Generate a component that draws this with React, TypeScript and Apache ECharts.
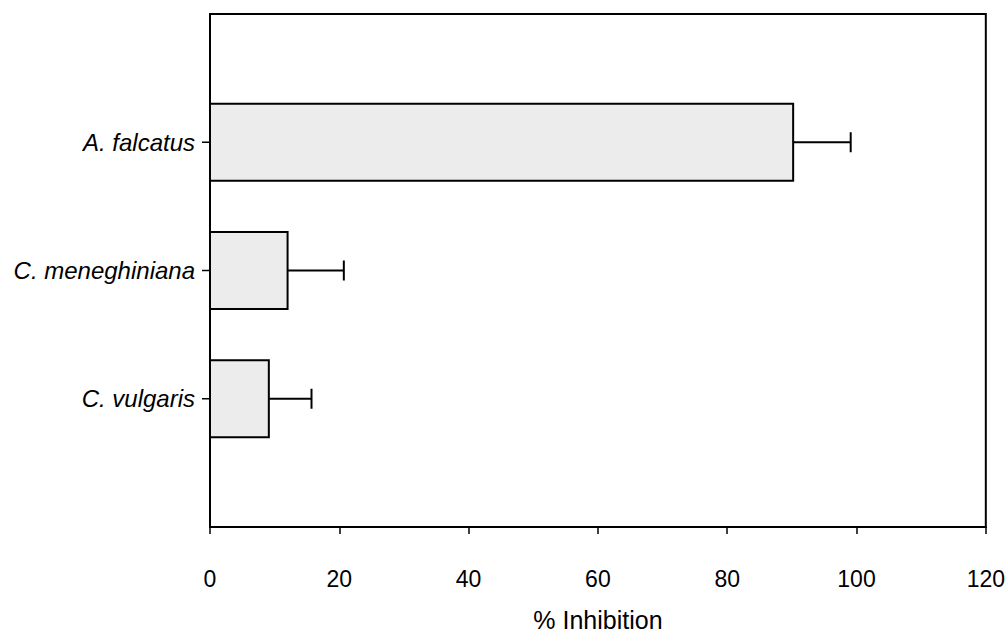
import React, { useEffect, useRef } from "react";
import * as echarts from "echarts";

const categories = ["C. vulgaris", "C. meneghiniana", "A. falcatus"];
const positions = [1, 2, 3];
const inhibition = [9.1, 12.0, 90.2];
const errors = [6.6, 8.7, 8.9];
const xTicks = [0, 20, 40, 60, 80, 100, 120];

export default function App() {
  const ref = useRef<HTMLDivElement>(null);
  useEffect(() => {
    document.body.style.margin = "0";
    if (!ref.current) return;
    const chart = echarts.init(ref.current, null, { renderer: "svg" });
    const data = categories.map((c, i) => [inhibition[i], positions[i], errors[i]]);
    chart.setOption({
      animation: false,
      backgroundColor: "#ffffff",
      grid: {
        left: 210,
        right: 22,
        top: 14,
        bottom: 107,
        show: true,
        borderColor: "#000",
        borderWidth: 2,
      },
      xAxis: {
        type: "value",
        min: xTicks[0],
        max: xTicks[xTicks.length - 1],
        interval: 20,
        name: "% Inhibition",
        nameLocation: "middle",
        nameGap: 80,
        nameTextStyle: { fontFamily: "Liberation Sans, Arial", fontSize: 25, color: "#000" },
        axisLine: { show: true, lineStyle: { color: "#000", width: 2 } },
        axisTick: { show: true, length: 7, lineStyle: { color: "#000", width: 1.5 } },
        axisLabel: { fontFamily: "Liberation Sans, Arial", fontSize: 23, color: "#000", margin: 40 },
        splitLine: { show: false },
      },
      yAxis: {
        type: "value",
        min: 0,
        max: 4,
        interval: 1,
        axisLine: { show: true, lineStyle: { color: "#000", width: 2 } },
        axisTick: { show: false },
        axisLabel: {
          fontFamily: "Liberation Sans, Arial",
          fontStyle: "italic",
          fontSize: 24,
          color: "#000",
          margin: 15,
          formatter: (v: number) => {
            const idx = positions.indexOf(v);
            return idx >= 0 ? categories[idx] : "";
          },
        },
        splitLine: { show: false },
      },
      series: [
        {
          type: "custom",
          data,
          renderItem: (params: any, api: any) => {
            const v = api.value(0);
            const p = api.value(1);
            const e = api.value(2);
            const start = api.coord([0, p]);
            const end = api.coord([v, p]);
            const errEnd = api.coord([v + e, p]);
            const h = api.size([0, 0.6])[1];
            return {
              type: "group",
              children: [
                {
                  type: "line",
                  shape: { x1: start[0] - 8, y1: start[1], x2: start[0], y2: start[1] },
                  style: { stroke: "#000", lineWidth: 1.5 },
                },
                {
                  type: "line",
                  shape: { x1: end[0], y1: end[1], x2: errEnd[0], y2: errEnd[1] },
                  style: { stroke: "#000", lineWidth: 2 },
                },
                {
                  type: "line",
                  shape: { x1: errEnd[0], y1: errEnd[1] - 10, x2: errEnd[0], y2: errEnd[1] + 10 },
                  style: { stroke: "#000", lineWidth: 2 },
                },
                {
                  type: "rect",
                  shape: { x: start[0], y: start[1] - h / 2, width: end[0] - start[0], height: h },
                  style: { fill: "#ececec", stroke: "#000", lineWidth: 2 },
                },
              ],
            };
          },
        },
      ],
    });
    return () => chart.dispose();
  }, []);
  return <div ref={ref} style={{ width: 1008, height: 637 }} />;
}
